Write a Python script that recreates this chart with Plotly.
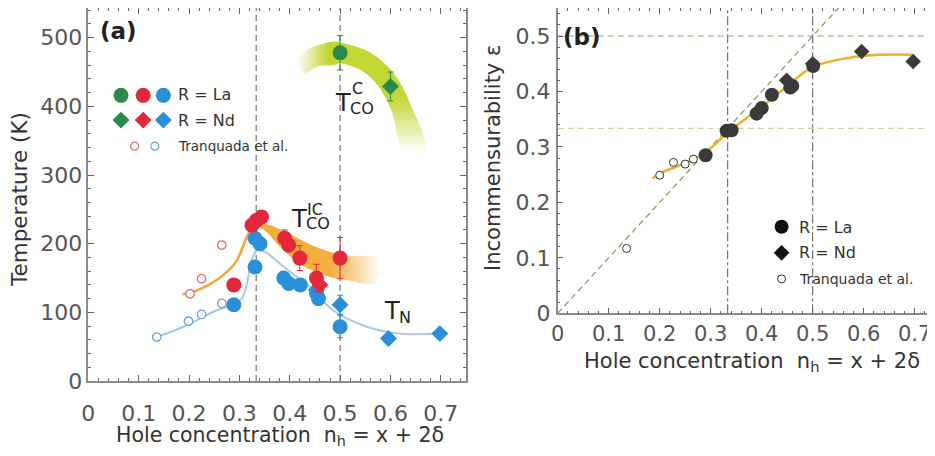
import numpy as np
import plotly.graph_objects as go

W, H = 935, 456
OFF = 8  # page offset of the figure (default body margin)

# ---------------- Panel (a) data ----------------
green_la_x = [0.5];   green_la_T = [478]; green_la_err = [25]
green_nd_x = [0.6];   green_nd_T = [429]; green_nd_err = [21]

red_la_x = [0.289, 0.325, 0.334, 0.344, 0.39, 0.398, 0.42, 0.453, 0.5]
red_la_T = [140, 227, 234, 239, 208, 198, 179, 150, 179]
red_la_err = [8, 6, 8, 8, 12, 10, 18, 20, 30]
red_nd_x = [0.46]; red_nd_T = [140]; red_nd_err = [8]

blue_la_x = [0.289, 0.331, 0.331, 0.341, 0.388, 0.398, 0.421, 0.453, 0.457, 0.5]
blue_la_T = [111, 166, 208, 200, 150, 142, 140, 128, 120, 79]
blue_la_err = [8, 6, 6, 6, 6, 6, 6, 8, 6, 16]
blue_nd_x = [0.453, 0.5, 0.596, 0.698]
blue_nd_T = [133, 111, 62, 69]
blue_nd_err = [6, 14, 5, 5]

tq_red_x = [0.202, 0.225, 0.265]; tq_red_T = [127, 149, 198]
tq_blue_x = [0.136, 0.199, 0.225, 0.265]; tq_blue_T = [64, 87, 97, 113]

# guide curves (a)
orange_x = [0.187, 0.22, 0.255, 0.291, 0.315, 0.328, 0.338]
orange_T = [126, 133, 147, 171, 210, 228, 232]
blue_line_x = [0.136, 0.189, 0.255, 0.29, 0.305, 0.315, 0.325, 0.335, 0.351, 0.388, 0.44, 0.486, 0.553, 0.619, 0.698]
blue_line_T = [64, 79, 103, 112, 120, 142, 178, 190, 188, 166, 137, 103, 79, 69, 69]
# bands: centre line knots and half-width (px)
oband_x = [0.335, 0.36, 0.39, 0.43, 0.47, 0.51, 0.575]
oband_T = [230, 221, 205, 185, 172, 165, 161]
oband_hw = [1.5, 4, 8, 11, 12, 12, 12]
gband_x = [0.42, 0.45, 0.5, 0.55, 0.59, 0.62, 0.65]
gband_T = [457, 472, 478, 466, 440, 400, 330]
gband_hw = [9, 10, 10, 10, 10, 10, 10]

# ---------------- Panel (b) data ----------------
b_tq_x = [0.135, 0.2, 0.227, 0.25, 0.266]
b_tq_e = [0.117, 0.249, 0.272, 0.269, 0.278]
b_la_x = [0.29, 0.331, 0.341, 0.39, 0.40, 0.42, 0.456, 0.46, 0.501]
b_la_e = [0.285, 0.329, 0.330, 0.36, 0.37, 0.394, 0.407, 0.41, 0.446]
b_nd_x = [0.449, 0.5, 0.596, 0.697]
b_nd_e = [0.42, 0.45, 0.472, 0.454]
b_fit_x = [0.186, 0.2, 0.25, 0.29, 0.333, 0.36, 0.4, 0.45, 0.5, 0.567, 0.632, 0.697]
b_fit_e = [0.243, 0.252, 0.271, 0.29, 0.326, 0.345, 0.372, 0.41, 0.444, 0.46, 0.466, 0.466]

ref_x = [1/3, 0.5]
ref_e = [1/3, 0.5]

x_ticks = [0, 0.1, 0.2, 0.3, 0.4, 0.5, 0.6, 0.7]
x_ticklabels = ["0", "0.1", "0.2", "0.3", "0.4", "0.5", "0.6", "0.7"]
a_yticks = [0, 100, 200, 300, 400, 500]
b_yticks = [0, 0.1, 0.2, 0.3, 0.4, 0.5]
b_yticklabels = ["0", "0.1", "0.2", "0.3", "0.4", "0.5"]

# ---------------- colours ----------------
GREEN = "#2b8a4b"
RED = "#e2283a"
BLUE = "#2a8fd8"
ORANGE = "#f2a832"
DARK = "#3a3a3a"
FONT = "DejaVu Sans"

# ---------------- layout geometry (page pixels) ----------------
A_X0, A_X1, A_Y0, A_Y1 = 88.3, 466.0, 8.0, 381.0
B_X0, B_X1, B_Y0, B_Y1 = 557.7, 935.0, 8.0, 313.3
A_PX_PER_K = 0.6866
B_PX_PER_U = 554.6
A_XR = [0, 0.75]; A_YR = [0, (A_Y1 - A_Y0) / A_PX_PER_K]
B_XR = [0, (B_X1 - B_X0) / 510.0]; B_YR = [0, (B_Y1 - B_Y0) / B_PX_PER_U]

sxa = (A_X1 - A_X0) / (A_XR[1] - A_XR[0])
sya = A_PX_PER_K


def px(X):
    return (X - OFF) / W


def py(Y):
    return 1 - (Y - OFF) / H


def band(xs, ys, hw, sx, sy):
    X = np.array(xs) * sx
    Y = np.array(ys) * sy
    tx = np.gradient(X); ty = np.gradient(Y)
    n = np.hypot(tx, ty)
    nx, ny = -ty / n, tx / n
    hw = np.array(hw)
    ux, uy = (X + nx * hw) / sx, (Y + ny * hw) / sy
    lx, ly = (X - nx * hw) / sx, (Y - ny * hw) / sy
    return ux, uy, lx, ly


fig = go.Figure()

# orange band
ux, uy, lx, ly = band(oband_x, oband_T, oband_hw, sxa, sya)
fig.add_trace(go.Scatter(
    x=list(ux) + list(lx[::-1]), y=list(uy) + list(ly[::-1]),
    mode="lines", line=dict(width=0, shape="spline"), fill="toself",
    fillgradient=dict(type="horizontal", start=0.34, stop=0.58,
                      colorscale=[[0, "rgba(244,166,44,0.95)"], [0.6, "rgba(244,166,44,0.9)"],
                                  [1, "rgba(244,166,44,0)"]]),
    hoverinfo="skip", showlegend=False, xaxis="x", yaxis="y"))

# green band (two pieces)
ux, uy, lx, ly = band(gband_x, gband_T, gband_hw, sxa, sya)
k = 2
fig.add_trace(go.Scatter(
    x=list(ux[:k + 1]) + list(lx[:k + 1][::-1]), y=list(uy[:k + 1]) + list(ly[:k + 1][::-1]),
    mode="lines", line=dict(width=0, shape="spline"), fill="toself",
    fillgradient=dict(type="horizontal", start=0.415, stop=0.475,
                      colorscale=[[0, "rgba(196,214,52,0)"], [1, "rgba(196,214,52,1)"]]),
    hoverinfo="skip", showlegend=False, xaxis="x", yaxis="y"))
fig.add_trace(go.Scatter(
    x=list(ux[k:]) + list(lx[k:][::-1]), y=list(uy[k:]) + list(ly[k:][::-1]),
    mode="lines", line=dict(width=0, shape="spline"), fill="toself",
    fillgradient=dict(type="vertical", start=332, stop=415,
                      colorscale=[[0, "rgba(196,214,52,0)"], [1, "rgba(196,214,52,1)"]]),
    hoverinfo="skip", showlegend=False, xaxis="x", yaxis="y"))

# guide lines (a)
fig.add_trace(go.Scatter(x=orange_x, y=orange_T, mode="lines",
                         line=dict(color=ORANGE, width=2.5, shape="spline"),
                         hoverinfo="skip", showlegend=False))
fig.add_trace(go.Scatter(x=blue_line_x, y=blue_line_T, mode="lines",
                         line=dict(color="#a9c9e2", width=2, shape="spline"),
                         hoverinfo="skip", showlegend=False))


def pts(x, y, err, color, symbol, size, xa="x", ya="y", open_=False, lw=1.3):
    marker = dict(color=color, symbol=symbol, size=size, line=dict(width=0))
    if open_:
        marker = dict(color="rgba(255,255,255,1)", symbol=symbol, size=size,
                      line=dict(width=lw, color=color))
    kw = {}
    if err is not None:
        kw["error_y"] = dict(type="data", array=err, color=color, thickness=1, width=3)
    return go.Scatter(x=x, y=y, mode="markers", marker=marker, xaxis=xa, yaxis=ya,
                      showlegend=False, hoverinfo="skip", **kw)


fig.add_trace(pts(tq_red_x, tq_red_T, None, "#e07070", "circle", 8.5, open_=True))
fig.add_trace(pts(tq_blue_x, tq_blue_T, None, "#6aa2d4", "circle", 8.5, open_=True))
fig.add_trace(pts(blue_la_x, blue_la_T, blue_la_err, BLUE, "circle", 15))
fig.add_trace(pts(blue_nd_x, blue_nd_T, blue_nd_err, BLUE, "diamond", 13))
fig.add_trace(pts(red_la_x, red_la_T, red_la_err, RED, "circle", 15))
fig.add_trace(pts(red_nd_x, red_nd_T, red_nd_err, RED, "diamond", 13))
fig.add_trace(pts(green_la_x, green_la_T, green_la_err, GREEN, "circle", 15))
fig.add_trace(pts(green_nd_x, green_nd_T, green_nd_err, GREEN, "diamond", 13))

# legend glyphs (a)
leg_a_x = [0.065, 0.109, 0.149]
leg_a_cols = [GREEN, RED, BLUE]
fig.add_trace(go.Scatter(x=leg_a_x, y=[416] * 3, mode="markers",
                         marker=dict(color=leg_a_cols, size=15, symbol="circle"),
                         showlegend=False, hoverinfo="skip"))
fig.add_trace(go.Scatter(x=leg_a_x, y=[380] * 3, mode="markers",
                         marker=dict(color=leg_a_cols, size=13, symbol="diamond"),
                         showlegend=False, hoverinfo="skip"))
fig.add_trace(go.Scatter(x=[0.092, 0.132], y=[342] * 2, mode="markers",
                         marker=dict(color="white", size=8, symbol="circle",
                                     line=dict(width=1.2, color=["#e07070", "#6aa2d4"])),
                         showlegend=False, hoverinfo="skip"))

# ---------------- Panel (b) traces ----------------
fig.add_trace(go.Scatter(x=[0, B_YR[1]], y=[0, B_YR[1]], mode="lines",
                         line=dict(color="#7aa862", width=1.3, dash="6px,4px"),
                         xaxis="x2", yaxis="y2", showlegend=False, hoverinfo="skip"))
fig.add_trace(go.Scatter(x=b_fit_x, y=b_fit_e, mode="lines",
                         line=dict(color="#f0b128", width=2.5, shape="spline"),
                         xaxis="x2", yaxis="y2", showlegend=False, hoverinfo="skip"))
fig.add_trace(pts(b_tq_x, b_tq_e, None, "#333333", "circle", 8, "x2", "y2", open_=True, lw=1))
fig.add_trace(pts(b_la_x, b_la_e, None, DARK, "circle", 14, "x2", "y2"))
fig.add_trace(pts(b_nd_x, b_nd_e, None, DARK, "diamond", 12, "x2", "y2"))

# legend glyphs (b)
fig.add_trace(go.Scatter(x=[0.439], y=[0.156], mode="markers",
                         marker=dict(color="#111", size=14, symbol="circle"),
                         xaxis="x2", yaxis="y2", showlegend=False, hoverinfo="skip"))
fig.add_trace(go.Scatter(x=[0.439], y=[0.109], mode="markers",
                         marker=dict(color="#111", size=12, symbol="diamond"),
                         xaxis="x2", yaxis="y2", showlegend=False, hoverinfo="skip"))
fig.add_trace(go.Scatter(x=[0.439], y=[0.062], mode="markers",
                         marker=dict(color="white", size=8, symbol="circle",
                                     line=dict(width=1, color="#333")),
                         xaxis="x2", yaxis="y2", showlegend=False, hoverinfo="skip"))

# ---------------- reference lines (shapes) ----------------
shapes = []
for xv in ref_x:
    shapes.append(dict(type="line", xref="x", yref="y domain", x0=xv, x1=xv, y0=0, y1=1,
                       line=dict(color="#555", width=1, dash="6px,4px"), layer="below"))
    shapes.append(dict(type="line", xref="x2", yref="y2 domain", x0=xv, x1=xv, y0=0, y1=1,
                       line=dict(color="#555", width=1, dash="dashdot"), layer="below"))
shapes.append(dict(type="line", xref="x2 domain", yref="y2", x0=0, x1=1, y0=ref_e[1], y1=ref_e[1],
                   line=dict(color="#8aab6a", width=1.2, dash="6px,4px"), layer="below"))
shapes.append(dict(type="line", xref="x2 domain", yref="y2", x0=0, x1=1, y0=ref_e[0], y1=ref_e[0],
                   line=dict(color="#d2d2a6", width=1.2, dash="6px,4px"), layer="below"))

AX = dict(showgrid=False, zeroline=False, showline=True, linecolor="#8a8a8a", linewidth=1.5,
          mirror="ticks", ticks="inside", tickcolor="#666", tickwidth=1.2, automargin=False,
          tickfont=dict(family=FONT, size=22, color="#555"))

ann = []


def text(X, Y, s, size, xanchor="center", yanchor="middle", color="#333", angle=0):
    ann.append(dict(xref="paper", yref="paper", x=px(X), y=py(Y), text=s, showarrow=False,
                    xanchor=xanchor, yanchor=yanchor, textangle=angle,
                    font=dict(family=FONT, size=size, color=color)))


# axis titles
text(280, 436, "Hole concentration  n<sub>h</sub> = x + 2δ", 20.5)
text(752, 362, "Hole concentration  n<sub>h</sub> = x + 2δ", 21)
text(19, 200, "Temperature (K)", 21.5, angle=-90)
text(493, 158, "Incommensurability ε", 21, angle=-90)
# panel labels
text(118, 31, "<b>(a)</b>", 23, color="#222")
text(582, 37, "<b>(b)</b>", 23, color="#222")
# legend texts
text(176, 95, "R = La", 16, xanchor="left")
text(176, 121, "R = Nd", 16, xanchor="left")
text(176, 146, "Tranquada et al.", 13.5, xanchor="left")
text(797, 227, "R = La", 16, xanchor="left")
text(797, 253, "R = Nd", 16, xanchor="left")
text(797, 279, "Tranquada et al.", 14, xanchor="left")
# curve labels
text(333, 103, "T", 24, xanchor="left", color="#222")
text(348, 108, "CO", 16, xanchor="left", color="#222")
text(350, 88, "C", 16, xanchor="left", color="#222")
text(289, 219, "T", 24, xanchor="left", color="#222")
text(304, 223, "CO", 16, xanchor="left", color="#222")
text(305, 209, "IC", 16, xanchor="left", color="#222")
text(382, 311, "T", 24, xanchor="left", color="#222")
text(397, 317, "N", 16, xanchor="left", color="#222")

OV = dict(showgrid=False, zeroline=False, showline=False, ticks="outside", ticklen=5,
          tickcolor="#666", tickwidth=1.2, tickvals=x_ticks, showticklabels=False, automargin=False,
          minor=dict(dtick=0.02, tick0=0, ticks="outside", ticklen=3, tickcolor="#666"))

fig.update_layout(
    width=W, height=H, margin=dict(l=0, r=0, t=0, b=0, autoexpand=False),
    paper_bgcolor="white", plot_bgcolor="white",
    showlegend=False, shapes=shapes, annotations=ann,
    xaxis=dict(AX, domain=[px(A_X0), px(A_X1)], range=A_XR, anchor="y",
               tickvals=x_ticks, ticktext=x_ticklabels, ticklen=6, ticklabelstandoff=12,
               minor=dict(dtick=0.02, tick0=0, ticks="inside", ticklen=3, tickcolor="#666")),
    yaxis=dict(AX, domain=[py(A_Y1), py(A_Y0)], range=A_YR, anchor="x",
               tickvals=a_yticks, ticklen=6, ticklabelstandoff=0,
               minor=dict(dtick=20, tick0=0, ticks="inside", ticklen=3, tickcolor="#666")),
    xaxis3=dict(OV, overlaying="x", anchor="y", range=A_XR, side="bottom"),
    xaxis2=dict(AX, domain=[px(B_X0), px(B_X1)], range=B_XR, anchor="y2",
                tickvals=x_ticks, ticktext=x_ticklabels, ticklen=6, ticklabelstandoff=1,
                tickfont=dict(family=FONT, size=21, color="#555"),
                minor=dict(dtick=0.02, tick0=0, ticks="inside", ticklen=3, tickcolor="#666")),
    yaxis2=dict(AX, domain=[py(B_Y1), py(B_Y0)], range=B_YR, anchor="x2",
                tickvals=b_yticks, ticktext=b_yticklabels, ticklen=6, ticklabelstandoff=1,
                minor=dict(dtick=0.02, tick0=0, ticks="inside", ticklen=3, tickcolor="#666")),
    xaxis4=dict(OV, overlaying="x2", anchor="y2", range=B_XR, side="top"),
)

fig.write_html("out.html")
